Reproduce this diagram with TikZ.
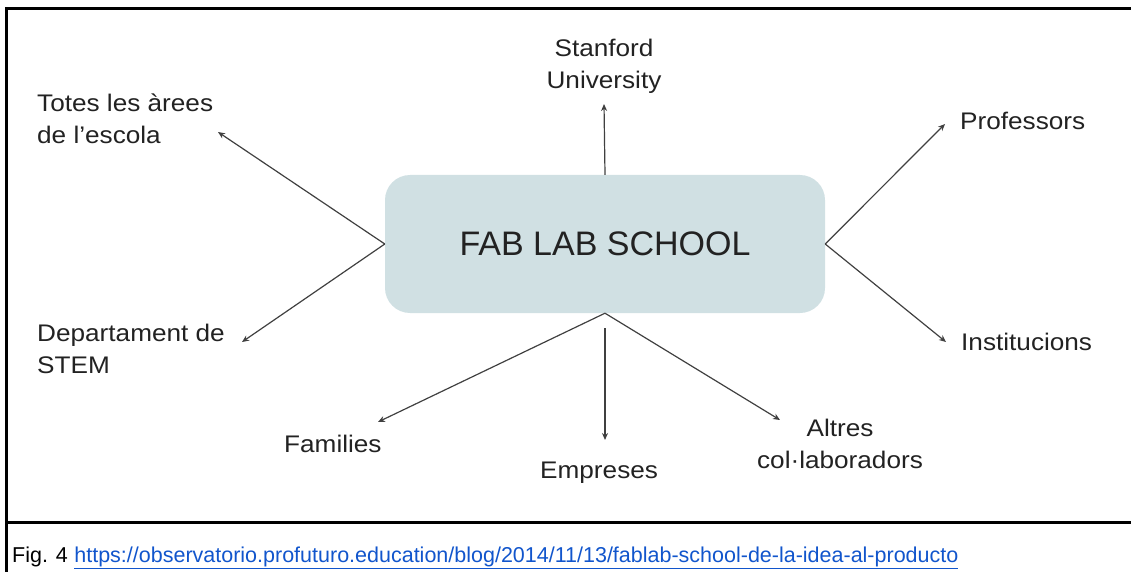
\documentclass[tikz,border=0pt]{standalone}
\usepackage{fontspec}
\setmainfont{Liberation Sans}
\newfontfamily\lblfont{Liberation Sans}[FakeStretch=1.09]
\usetikzlibrary{positioning,arrows.meta}
\definecolor{hubfill}{HTML}{D0E0E3}
\definecolor{linkblue}{HTML}{1155CC}
\definecolor{inkgray}{HTML}{222222}
\tikzset{
  hub/.style={rounded corners=25pt,fill=hubfill,minimum width=440pt,minimum height=138pt,
    inner sep=0pt,font=\fontsize{34}{40}\selectfont,text=inkgray},
  lbl/.style={inner sep=0pt,align=left,font=\lblfont\fontsize{24}{32}\selectfont,text=inkgray},
  clbl/.style={lbl,align=center},
  ray/.style={-{Stealth[length=7pt,width=6pt]},draw=black!75,line width=1.2pt},
  frame/.style={line width=3pt},
  caption/.style={inner sep=0pt,anchor=base west,font=\fontsize{21.5}{24}\selectfont}
}
\begin{document}
\begin{tikzpicture}[x=1pt,y=-1pt]
  \useasboundingbox (0,0) rectangle (1131,572);

  % frame and caption rule
  \draw [frame] (1131,8.5) -| (6.5,572);
  \draw [frame] (6.5,522.5) -- (1131,522.5);

  \node [hub] (hub) at (605,244) {FAB LAB SCHOOL};

  % base of a two-line node is its last line
  \node [clbl,anchor=base] (stanford) at (604,89) {Stanford\\University};
  \node [lbl,anchor=base west] (totes) at (37,144) {Totes les àrees\\de l’escola};
  \node [lbl,anchor=base west] (stem) at (37,373) {Departament de\\STEM};
  \node [lbl,anchor=base west] (prof) at (960,130) {Professors};
  \node [lbl,anchor=base west] (inst) at (961,350) {Institucions};
  \node [lbl,anchor=base west] (fam) at (284,452) {Families};
  \node [lbl,anchor=base west] (emp) at (540,478) {Empreses};
  \node [clbl,anchor=base] (altres) at (840,468) {Altres\\col·laboradors};

  % arrow tips
  \coordinate (t-stanford) at (604,104);
  \coordinate (t-totes) at (218,132);
  \coordinate (t-stem) at (242,342);
  \coordinate (t-prof) at (945,124);
  \coordinate (t-inst) at (946,342);
  \coordinate (t-fam) at (378,422);
  \coordinate (t-emp) at (hub.south|-0,440);
  \coordinate (t-altres) at (780,420);

  \draw [ray] (hub.north) -- (t-stanford);
  \draw [ray] (hub.west) -- (t-totes);
  \draw [ray] (hub.west) -- (t-stem);
  \draw [ray] (hub.east) -- (t-prof);
  \draw [ray] (hub.east) -- (t-inst);
  \draw [ray] (hub.south) -- (t-fam);
  \draw [ray,shorten <=15pt] (hub.south) -- (t-emp);
  \draw [ray] (hub.south) -- (t-altres);

  \node [caption] (fig) at (12,562) {Fig. 4};
  \node [caption,text=linkblue,right=6pt of fig.base east,anchor=base west] (url)
    {\underline{https://observatorio.profuturo.education/blog/2014/11/13/fablab-school-de-la-idea-al-producto}};
\end{tikzpicture}
\end{document}
